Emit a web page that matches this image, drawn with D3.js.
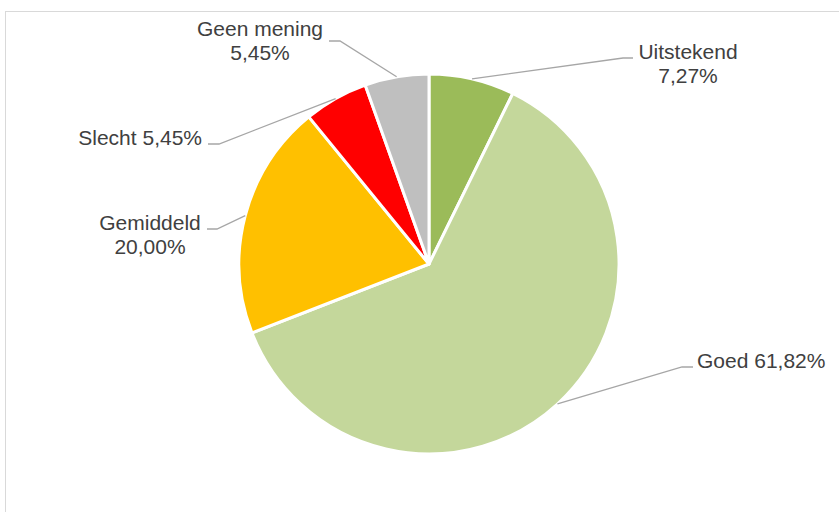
<!DOCTYPE html>
<html>
<head>
<meta charset="utf-8">
<script src="https://cdn.jsdelivr.net/npm/d3@7"></script>
<style>
  body { margin: 0; background: #fff; }
  text { font-family: "Liberation Sans", Arial, sans-serif; font-size: 21px; fill: #404040; }
</style>
</head>
<body>
<div id="chart"></div>
<script>
// ***** Data *****
var categories = ["Uitstekend", "Goed", "Gemiddeld", "Slecht", "Geen mening"];
var values = [7.27, 61.82, 20.00, 5.45, 5.45];
var valueLabels = ["7,27%", "61,82%", "20,00%", "5,45%", "5,45%"];
var colors = ["#9BBB59", "#C4D79B", "#FFC000", "#FF0000", "#BFBFBF"];

// ***** Layout *****
var svgWidth = 839;
var svgHeight = 512;
var cx = 429, cy = 264, radius = 190;

// label layout per slice: elbow point, label anchor, whether two lines
var labelLayout = [
    { elbow: [623, 58], end: [633, 58], x: 688, y: 59, anchor: "middle", twoLines: true },
    { elbow: [682, 367], end: [693, 367], x: 697, y: 368, anchor: "start", twoLines: false },
    { elbow: [217, 229], end: [207, 229], x: 150, y: 230, anchor: "middle", twoLines: true },
    { elbow: [219, 144], end: [208, 144], x: 202, y: 145, anchor: "end", twoLines: false },
    { elbow: [340, 41], end: [329, 41], x: 260, y: 36, anchor: "middle", twoLines: true }
];

var svg = d3.select("#chart").append("svg")
    .attr("width", svgWidth)
    .attr("height", svgHeight);

// chart border (top and left visible)
svg.append("line")
    .attr("x1", 5).attr("y1", 11.5).attr("x2", svgWidth).attr("y2", 11.5)
    .attr("stroke", "#D9D9D9").attr("stroke-width", 1);
svg.append("line")
    .attr("x1", 5.5).attr("y1", 11).attr("x2", 5.5).attr("y2", svgHeight)
    .attr("stroke", "#D9D9D9").attr("stroke-width", 1);

var pieData = d3.pie().sort(null).value(d => d)(values);

var arc = d3.arc().innerRadius(0).outerRadius(radius);

var pieGroup = svg.append("g")
    .attr("transform", `translate(${cx}, ${cy})`);

pieGroup.selectAll("path")
    .data(pieData)
    .enter()
    .append("path")
    .attr("d", arc)
    .attr("fill", (d, i) => colors[i])
    .attr("stroke", "#fff")
    .attr("stroke-width", 3)
    .attr("stroke-linejoin", "round");

// leader lines start at the middle of each arc's outer edge
var leaders = svg.append("g");
leaders.selectAll("polyline")
    .data(pieData)
    .enter()
    .append("polyline")
    .attr("points", function(d, i) {
        var a = (d.startAngle + d.endAngle) / 2;
        var sx = cx + radius * Math.sin(a);
        var sy = cy - radius * Math.cos(a);
        var L = labelLayout[i];
        return [[sx, sy], L.elbow, L.end].map(p => p.join(",")).join(" ");
    })
    .attr("fill", "none")
    .attr("stroke", "#A6A6A6")
    .attr("stroke-width", 1.3);

// labels
var labels = svg.append("g");
pieData.forEach(function(d, i) {
    var L = labelLayout[i];
    var t = labels.append("text")
        .attr("x", L.x)
        .attr("y", L.y)
        .attr("text-anchor", L.anchor);
    if (L.twoLines) {
        t.append("tspan").attr("x", L.x).text(categories[i]);
        t.append("tspan").attr("x", L.x).attr("dy", 24).text(valueLabels[i]);
    } else {
        t.text(categories[i] + " " + valueLabels[i]);
    }
});
</script>
</body>
</html>
